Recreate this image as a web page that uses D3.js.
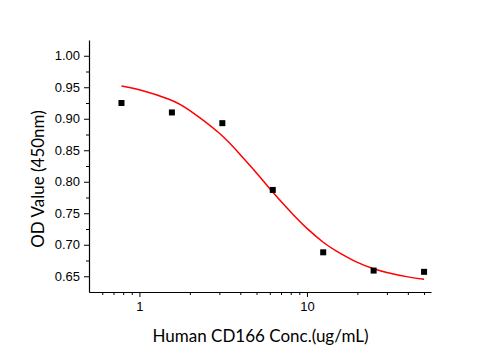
<!DOCTYPE html>
<html>
<head>
<meta charset="utf-8">
<script src="https://cdn.jsdelivr.net/npm/d3@7"></script>
<style>
  html, body { margin: 0; padding: 0; background: #fff; }
  svg { display: block; font-family: Lato, "Open Sans", sans-serif; }
</style>
</head>
<body>
<svg id="chart" width="501" height="350"></svg>
<script>
// Measured concentrations (ug/mL) and OD readings at 450 nm
const concentrations = [0.78125, 1.5625, 3.125, 6.25, 12.5, 25, 50];
const odValues = [0.925, 0.910, 0.893, 0.787, 0.688, 0.659, 0.657];

// Fitted dose-response curve, sampled along the concentration axis
const fitConc = [0.78125, 1, 1.5, 2, 3, 4, 5, 6, 8, 10, 12.5, 15, 20, 25, 30, 40, 50];
const fitOD = [0.952, 0.946, 0.931, 0.913, 0.877, 0.843, 0.814, 0.789, 0.752, 0.726, 0.704, 0.690, 0.672, 0.662, 0.656, 0.649, 0.6454];

// Axis ticks
const xMajorTicks = [1, 10];
const xMinorTicks = [0.6, 0.7, 0.8, 0.9, 2, 3, 4, 5, 6, 7, 8, 9, 20, 30, 40, 50];
const yMajorTicks = [0.65, 0.70, 0.75, 0.80, 0.85, 0.90, 0.95, 1.00];
const yMinorTicks = [0.675, 0.725, 0.775, 0.825, 0.875, 0.925, 0.975];

const xTitle = "Human CD166 Conc.(ug/mL)";
const yTitle = "OD Value (450nm)";

const svg = d3.select("#chart");
const plotLeft = 89, plotRight = 431, plotTop = 40, plotBottom = 292;

const x = d3.scaleLog().domain([0.5, 55]).range([plotLeft, plotRight]);
const y = d3.scaleLinear().domain([0.625, 1.025]).range([plotBottom, plotTop]);

const axisStyle = g => {
  g.selectAll("path").attr("stroke", "#000").attr("stroke-width", 1.2);
  g.selectAll("line").attr("stroke", "#000").attr("stroke-width", 1);
  g.selectAll("text").attr("fill", "#000");
};

// x axis: major ticks with labels, minor ticks without
svg.append("g")
  .attr("transform", `translate(0,${plotBottom})`)
  .call(d3.axisBottom(x).tickValues(xMinorTicks).tickSize(3).tickFormat(""))
  .call(g => g.select("path").remove())
  .call(axisStyle);

svg.append("g")
  .attr("transform", `translate(0,${plotBottom})`)
  .call(d3.axisBottom(x).tickValues(xMajorTicks).tickSize(5).tickSizeOuter(0)
        .tickPadding(5).tickFormat(d3.format("d")))
  .call(g => g.selectAll("text").attr("font-size", 13))
  .call(axisStyle);

// y axis
svg.append("g")
  .attr("transform", `translate(${plotLeft},0)`)
  .call(d3.axisLeft(y).tickValues(yMinorTicks).tickSize(3).tickFormat(""))
  .call(g => g.select("path").remove())
  .call(axisStyle);

svg.append("g")
  .attr("transform", `translate(${plotLeft},0)`)
  .call(d3.axisLeft(y).tickValues(yMajorTicks).tickSize(5).tickSizeOuter(0)
        .tickPadding(4).tickFormat(d3.format(".2f")))
  .call(g => g.selectAll("text").attr("font-size", 13))
  .call(axisStyle);

// fitted curve
const line = d3.line()
  .x((d, i) => x(fitConc[i]))
  .y(d => y(d))
  .curve(d3.curveNatural);

svg.append("path")
  .datum(fitOD)
  .attr("d", line)
  .attr("fill", "none")
  .attr("stroke", "#ff0000")
  .attr("stroke-width", 1.5);

// data points
const size = 6;
svg.append("g")
  .selectAll("rect")
  .data(odValues)
  .join("rect")
  .attr("x", (d, i) => x(concentrations[i]) - size / 2)
  .attr("y", d => y(d) - size / 2)
  .attr("width", size)
  .attr("height", size)
  .attr("fill", "#000");

// axis titles
svg.append("text")
  .attr("x", (plotLeft + plotRight) / 2 + 0.5)
  .attr("y", 342)
  .attr("text-anchor", "middle")
  .attr("font-size", 17)
  .attr("fill", "#000")
  .text(xTitle);

svg.append("text")
  .attr("transform", `translate(44,179) rotate(-90)`)
  .attr("text-anchor", "middle")
  .attr("font-size", 17)
  .attr("fill", "#000")
  .text(yTitle);
</script>
</body>
</html>
